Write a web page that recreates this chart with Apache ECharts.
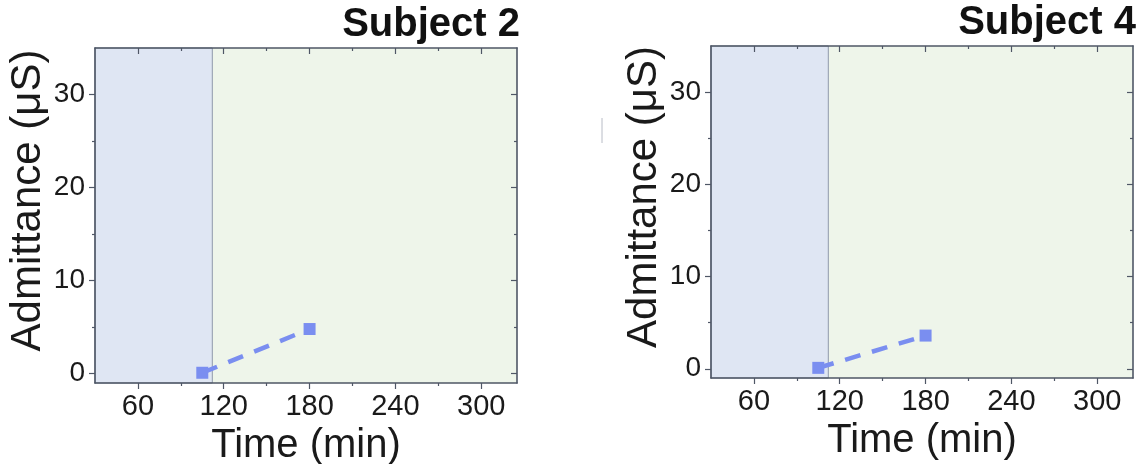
<!DOCTYPE html>
<html><head><meta charset="utf-8">
<script src="https://cdn.jsdelivr.net/npm/echarts@6/dist/echarts.min.js"></script>
<style>html,body{margin:0;padding:0;background:#fff}#c{width:1144px;height:464px}</style>
</head><body><div id="c"></div>
<script>
const subjects = ['Subject 2', 'Subject 4'];
const timeS2 = [105, 180];
const admS2 = [0.1, 4.8];
const timeS4 = [105, 180];
const admS4 = [0.1, 3.6];
const xMajorTicks = [60, 120, 180, 240, 300];
const xMinorTicks = [90, 150, 210, 270];
const yMajorTicks = [0, 10, 20, 30];
const yMinorTicks = [5, 15, 25];
const xRange = [30, 325];
const yRange = [-1, 35];
const baselineEnd = 112;

const FONT = 'Liberation Sans, Arial, sans-serif';
const AXIS_COLOR = '#4f5766';
const TEXT_COLOR = '#1a1a1a';
const MARK_COLOR = '#7a8ef0';
const BLUE_BG = '#dfe6f3';
const GREEN_BG = '#eef5ea';

const grids = [
  {left: 95, top: 48, width: 422, height: 335},
  {left: 711, top: 46, width: 422, height: 332}
];

function makeX(g) {
  const base = {type: 'value', gridIndex: g, min: xRange[0], max: xRange[1], splitLine: {show: false}, z: 10};
  return [
    Object.assign({}, base, {
      position: 'bottom',
      axisLine: {show: true, onZero: false, lineStyle: {color: AXIS_COLOR, width: 1.6}},
      axisTick: {show: true, customValues: xMajorTicks, length: 6, inside: false, lineStyle: {color: AXIS_COLOR, width: 1.2}},
      axisLabel: {show: true, customValues: xMajorTicks, fontSize: 29, margin: 9, color: TEXT_COLOR, fontFamily: FONT},
      name: 'Time (min)', nameLocation: 'middle', nameGap: 34,
      nameTextStyle: {fontSize: 40, color: TEXT_COLOR, fontFamily: FONT}
    }),
    Object.assign({}, base, {
      position: 'bottom',
      axisLine: {show: false, onZero: false},
      axisTick: {show: true, customValues: xMinorTicks, length: 3, inside: false, lineStyle: {color: AXIS_COLOR, width: 1.2}},
      axisLabel: {show: false}
    }),
    Object.assign({}, base, {
      position: 'top',
      axisLine: {show: true, onZero: false, lineStyle: {color: AXIS_COLOR, width: 1.6}},
      axisTick: {show: true, customValues: xMajorTicks, length: 6, inside: true, lineStyle: {color: AXIS_COLOR, width: 1.2}},
      axisLabel: {show: false}
    }),
    Object.assign({}, base, {
      position: 'top',
      axisLine: {show: false, onZero: false},
      axisTick: {show: true, customValues: xMinorTicks, length: 3, inside: true, lineStyle: {color: AXIS_COLOR, width: 1.2}},
      axisLabel: {show: false}
    })
  ];
}

function makeY(g) {
  const base = {type: 'value', gridIndex: g, min: yRange[0], max: yRange[1], splitLine: {show: false}, z: 10};
  return [
    Object.assign({}, base, {
      position: 'left',
      axisLine: {show: true, onZero: false, lineStyle: {color: AXIS_COLOR, width: 1.6}},
      axisTick: {show: true, customValues: yMajorTicks, length: 6, inside: false, lineStyle: {color: AXIS_COLOR, width: 1.2}},
      axisLabel: {show: true, customValues: yMajorTicks, fontSize: 28, margin: 10, color: TEXT_COLOR, fontFamily: FONT},
      name: 'Admittance (\u03bcS)', nameLocation: 'middle', nameGap: 46,
      nameTextStyle: {fontSize: 42, color: TEXT_COLOR, fontFamily: FONT, padding: [0, 0, 0, 30]}
    }),
    Object.assign({}, base, {
      position: 'left',
      axisLine: {show: false, onZero: false},
      axisTick: {show: true, customValues: yMinorTicks, length: 3, inside: false, lineStyle: {color: AXIS_COLOR, width: 1.2}},
      axisLabel: {show: false}
    }),
    Object.assign({}, base, {
      position: 'right',
      axisLine: {show: true, onZero: false, lineStyle: {color: AXIS_COLOR, width: 1.6}},
      axisTick: {show: true, customValues: yMajorTicks, length: 6, inside: true, lineStyle: {color: AXIS_COLOR, width: 1.2}},
      axisLabel: {show: false}
    }),
    Object.assign({}, base, {
      position: 'right',
      axisLine: {show: false, onZero: false},
      axisTick: {show: true, customValues: yMinorTicks, length: 3, inside: true, lineStyle: {color: AXIS_COLOR, width: 1.2}},
      axisLabel: {show: false}
    })
  ];
}

function makeSeries(g, times, vals) {
  return {
    type: 'line',
    name: subjects[g],
    xAxisIndex: g * 4,
    yAxisIndex: g * 4,
    data: times.map((t, i) => [t, vals[i]]),
    symbol: 'rect',
    symbolSize: 12,
    showSymbol: true,
    lineStyle: {color: MARK_COLOR, width: 4.5, type: [16, 12]},
    itemStyle: {color: MARK_COLOR, opacity: 1},
    z: 5,
    markArea: {
      silent: true,
      z: 1,
      itemStyle: {color: BLUE_BG, borderColor: '#8f99ab', borderWidth: 1},
      data: [[{xAxis: xRange[0]}, {xAxis: baselineEnd}]]
    },
    animation: false
  };
}

const chart = echarts.init(document.getElementById('c'), null, {renderer: 'canvas'});
chart.setOption({
  animation: false,
  backgroundColor: '#ffffff',
  title: [
    {text: subjects[0], right: 624, top: 5, padding: 0,
     textStyle: {fontSize: 40, fontWeight: 'bold', color: '#111', fontFamily: FONT}},
    {text: subjects[1], right: 8, top: 3, padding: 0,
     textStyle: {fontSize: 40, fontWeight: 'bold', color: '#111', fontFamily: FONT}}
  ],
  grid: grids.map(g => Object.assign({show: true, backgroundColor: GREEN_BG, borderWidth: 0, containLabel: false, outerBoundsMode: 'none'}, g)),
  xAxis: makeX(0).concat(makeX(1)),
  yAxis: makeY(0).concat(makeY(1)),
  series: [makeSeries(0, timeS2, admS2), makeSeries(1, timeS4, admS4)],
  graphic: [
    {type: 'line', shape: {x1: 602, y1: 118, x2: 602, y2: 143}, style: {stroke: '#b8bcc6', lineWidth: 1}, silent: true}
  ]
});
</script>
</body></html>
